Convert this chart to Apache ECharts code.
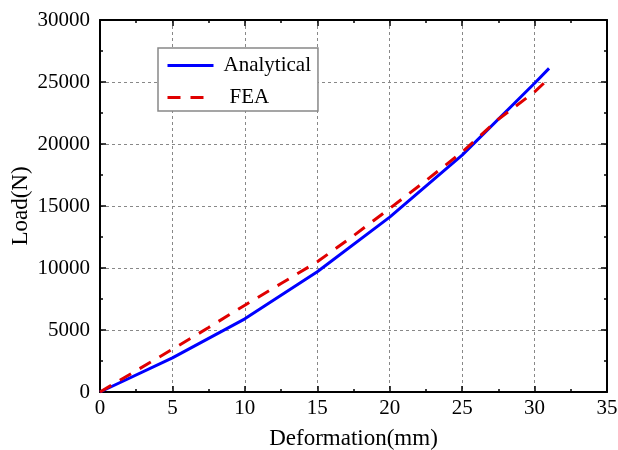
<!DOCTYPE html>
<html><head><meta charset="utf-8">
<script src="https://cdn.jsdelivr.net/npm/echarts@6/dist/echarts.min.js"></script>
<style>html,body{margin:0;padding:0;background:#fff}#c{width:618px;height:450px}</style>
</head><body><div id="c"></div>
<script>
const analyticalX = [0, 5, 10, 15, 20, 25, 30, 31];
const analyticalY = [0, 2750, 5900, 9700, 14100, 19100, 24900, 26100];
const feaX = [0, 2.5, 5, 7.5, 10, 12.5, 15, 17.5, 20, 22.5, 25, 27.5, 30, 31];
const feaY = [0, 1720, 3450, 5200, 7000, 8750, 10500, 12600, 14800, 17050, 19350, 22000, 24200, 25300];
const xTicks = [0, 5, 10, 15, 20, 25, 30, 35];
const yTicks = [0, 5000, 10000, 15000, 20000, 25000, 30000];

const font = 'Liberation Serif';
const pair = (xs, ys) => xs.map((x, i) => [x, ys[i]]);
const chart = echarts.init(document.getElementById('c'), null, {renderer: 'canvas'});
const axisCommon = {
  axisLine: {show: true, onZero: false, lineStyle: {color: '#000', width: 2}},
  axisTick: {show: true, inside: true, length: 6, lineStyle: {color: '#000', width: 1.5}},
  minorTick: {show: true, splitNumber: 2, length: 3, lineStyle: {color: '#000', width: 1.5}},
};
chart.setOption({
  animation: false,
  backgroundColor: '#fff',
  grid: {left: 100, right: 11, top: 20, bottom: 58, containLabel: false, outerBoundsMode: 'none'},
  legend: {
    orient: 'vertical', left: 158, top: 48,
    backgroundColor: '#fff', borderColor: '#888', borderWidth: 1.5,
    padding: [7, 7, 3, 8], itemGap: 11, itemWidth: 46, itemHeight: 14,
    itemStyle: {opacity: 0},
    lineStyle: {width: 3},
    textStyle: {fontFamily: font, fontSize: 21, color: '#000'},
    data: [
      {name: 'Analytical', textStyle: {padding: [0, 0, 0, 5]}},
      {name: 'FEA', textStyle: {padding: [0, 0, 0, 11]}}
    ]
  },
  xAxis: [{
    type: 'value', min: xTicks[0], max: xTicks[xTicks.length - 1], interval: 5,
    name: 'Deformation(mm)', nameLocation: 'middle', nameGap: 35,
    nameTextStyle: {fontFamily: font, fontSize: 23, color: '#000'},
    ...axisCommon,
    axisLabel: {fontFamily: font, fontSize: 21, color: '#000', margin: 6, formatter: v => String(v)},
    splitLine: {show: true, lineStyle: {color: '#888', width: 1, type: [3, 3]}}
  }, {
    type: 'value', position: 'top', min: xTicks[0], max: xTicks[xTicks.length - 1], interval: 5,
    ...axisCommon, axisLabel: {show: false}, splitLine: {show: false}
  }],
  yAxis: [{
    type: 'value', min: yTicks[0], max: yTicks[yTicks.length - 1], interval: 5000,
    name: 'Load(N)', nameLocation: 'middle', nameGap: 68, nameMoveOverlap: false,
    nameTextStyle: {fontFamily: font, fontSize: 23, color: '#000'},
    ...axisCommon,
    axisLabel: {fontFamily: font, fontSize: 21, color: '#000', margin: 10, formatter: v => String(v)},
    splitLine: {show: true, lineStyle: {color: '#888', width: 1, type: [3, 3]}}
  }, {
    type: 'value', position: 'right', min: yTicks[0], max: yTicks[yTicks.length - 1], interval: 5000,
    ...axisCommon, axisLabel: {show: false}, splitLine: {show: false}
  }],
  series: [{
    name: 'Analytical', type: 'line', symbol: 'none', data: pair(analyticalX, analyticalY),
    lineStyle: {color: '#0000FF', width: 3}, itemStyle: {color: '#0000FF'}, z: 3
  }, {
    name: 'FEA', type: 'line', symbol: 'none', data: pair(feaX, feaY),
    lineStyle: {color: '#E00000', width: 3, type: [13, 10]}, itemStyle: {color: '#E00000'}, z: 4
  }]
});
</script></body></html>
